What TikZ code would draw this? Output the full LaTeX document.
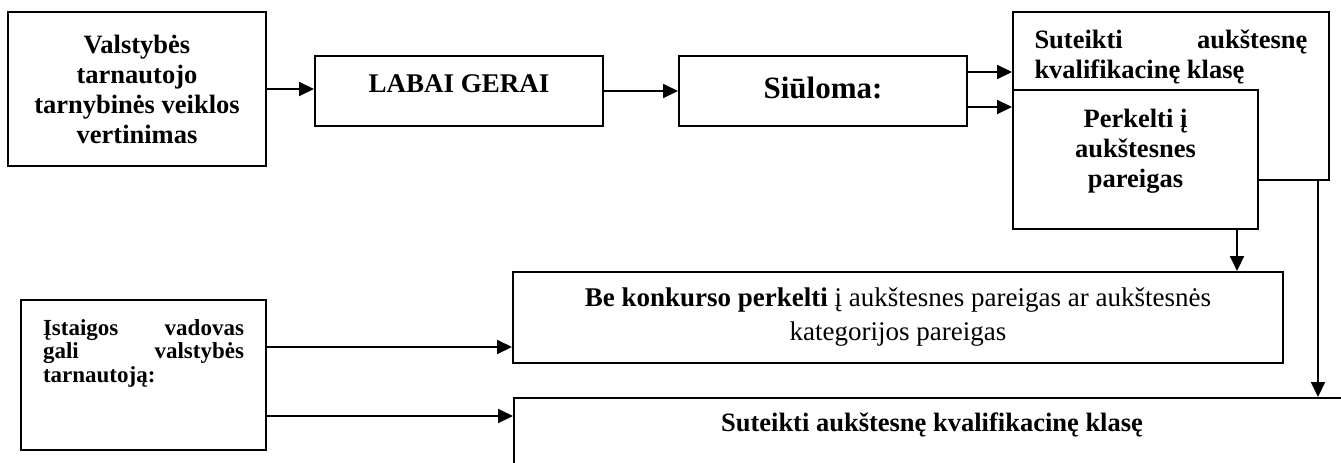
\documentclass[tikz,border=0pt]{standalone}
\usepackage{fontspec}
\setmainfont{Liberation Serif}
\usetikzlibrary{arrows.meta}
\begin{document}
\begin{tikzpicture}[x=1pt,y=1pt,line width=2pt,>={Triangle[length=15pt,width=14pt]}]

  \tikzset{box/.style={draw,inner sep=0pt,font=\bfseries\fontsize{26.5}{30}\selectfont}}
  \useasboundingbox (0,0) rectangle (1341,-463);
  \node[box,minimum width=258,minimum height=154,align=center] (va) at (137,-89) {Valstybės\\tarnautojo\\tarnybinės veiklos\\vertinimas};
  \node[box,minimum width=288,minimum height=70,text depth=14pt,font=\bfseries\fontsize{27}{30}\selectfont] (lg) at (459,-91) {LABAI GERAI};
  \node[box,minimum width=288,minimum height=70,text depth=7pt,font=\bfseries\fontsize{31}{34}\selectfont] (su) at (823,-91) {Siūloma:};
  \node[box,minimum width=316,minimum height=168] (sk) at (1171,-96) {\parbox[c][168pt][t]{273pt}{\rule{0pt}{36pt}Suteikti\hfill aukštesnę\\kvalifikacinę klasę}};
  \node[box,fill=white,minimum width=245,minimum height=139] (pk) at (1135.5,-159.5) {\parbox[c][139pt][t]{230pt}{\centering\rule{0pt}{37pt}Perkelti į\\aukštesnes\\pareigas}};
  \node[box,minimum width=770,minimum height=91,align=center,font=\fontsize{27}{34}\selectfont] (bk) at (898,-317.5) {\textbf{Be konkurso perkelti} į aukštesnes pareigas ar aukštesnės\\kategorijos pareigas};
  \node[box,minimum width=836,anchor=north west,inner ysep=15pt,text depth=30pt] (sg) at (513,-397) {Suteikti aukštesnę kvalifikacinę klasę};
  \node[box,minimum width=245,minimum height=150,font=\bfseries\fontsize{23}{23.5}\selectfont] (ia) at (143.5,-375) {\parbox[c][150pt][t]{201pt}{\rule{0pt}{35pt}Įstaigos\hfill vadovas\\gali\hfill valstybės\\tarnautoją:}};

  \draw[->] (va.east) -- (va.east -| lg.west);
  \draw[->] (lg) -- (su);
  \draw[->] ([yshift=19pt]su.east) -- ([yshift=19pt]su.east -| sk.west);
  \draw[->] ([yshift=-16pt]su.east) -- ([yshift=-16pt]su.east -| pk.west);
  \draw[->] ([xshift=101.5pt]pk.south) -- ([xshift=101.5pt]pk.south |- bk.north);
  \draw[->] ([xshift=147pt]sk.south) -- ([xshift=147pt]sk.south |- sg.north);
  \draw[->] ([yshift=28pt]ia.east) -- ([yshift=28pt]ia.east -| bk.west);
  \draw[->] ([yshift=-41pt]ia.east) -- ([yshift=-41pt]ia.east -| sg.west);
\end{tikzpicture}
\end{document}
